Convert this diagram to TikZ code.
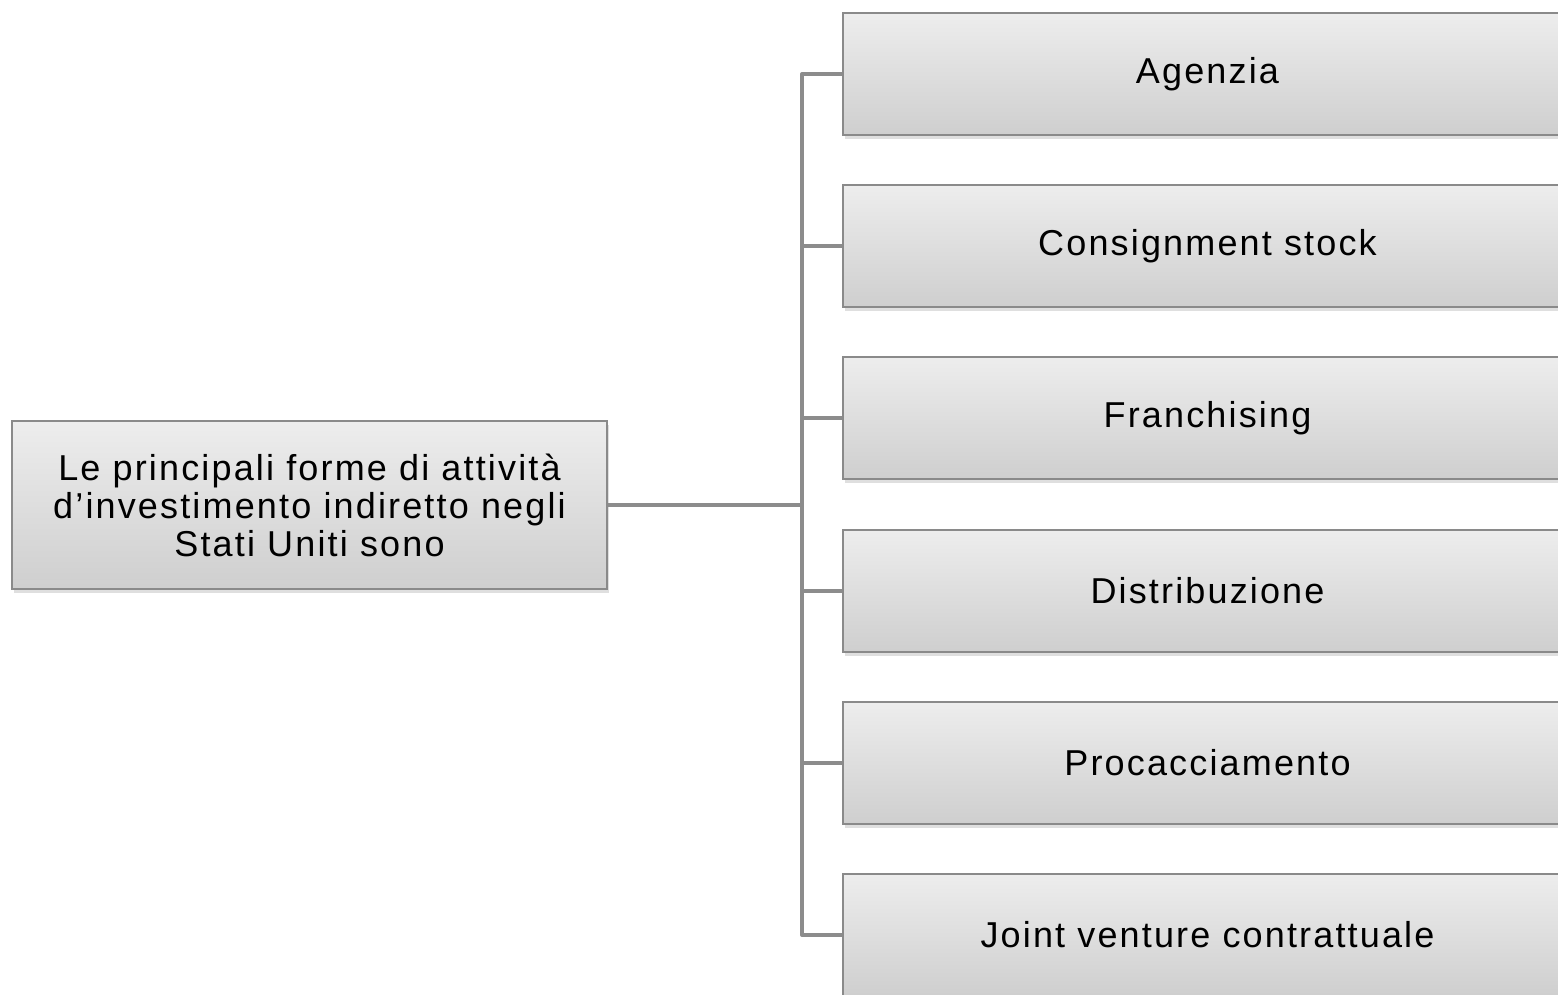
\documentclass[tikz,border=0pt]{standalone}
\usepackage{fontspec}
\setmainfont{Liberation Sans}[LetterSpace=6]
\usetikzlibrary{shadows}
\definecolor{linkgray}{HTML}{8C8C8C}
\definecolor{edgegray}{HTML}{8A8A8A}
\begin{document}
\begin{tikzpicture}[x=1pt, y=-1pt,
    every node/.style={rectangle, draw=edgegray, line width=1.5pt, top color=gray!14, bottom color=gray!38, drop shadow={shadow xshift=2pt, shadow yshift=-4pt, opacity=0.25}, font=\fontsize{36}{38}\selectfont, align=center, inner sep=0pt},
    item/.style={minimum width=729, minimum height=122},
    link/.style={draw=linkgray, line width=4pt, line join=round}]
        \clip (0,0) rectangle (1558,995);
        \node[minimum width=595, minimum height=168] (root) at (309.5, 505) {Le principali forme di attività\\d’investimento indiretto negli\\Stati Uniti sono};
        \node[item] (agenzia) at (1207.5, 74) {Agenzia};
        \node[item] (consign) at (1207.5, 246) {Consignment stock};
        \node[item] (franch) at (1207.5, 418) {Franchising};
        \node[item] (distrib) at (1207.5, 591) {Distribuzione};
        \node[item] (procac) at (1207.5, 763) {Procacciamento};
        \node[item] (joint) at (1207.5, 935) {Joint venture contrattuale};
        \coordinate (hub) at (802, 505);
        \draw[link] (root.east) -- (hub);
        \draw[link] (agenzia.west) -- (hub |- agenzia.west) -- (hub |- joint.west) -- (joint.west);
        \draw[link] (hub |- consign.west) -- (consign.west);
        \draw[link] (hub |- franch.west) -- (franch.west);
        \draw[link] (hub |- distrib.west) -- (distrib.west);
        \draw[link] (hub |- procac.west) -- (procac.west);
\end{tikzpicture}
\end{document}
